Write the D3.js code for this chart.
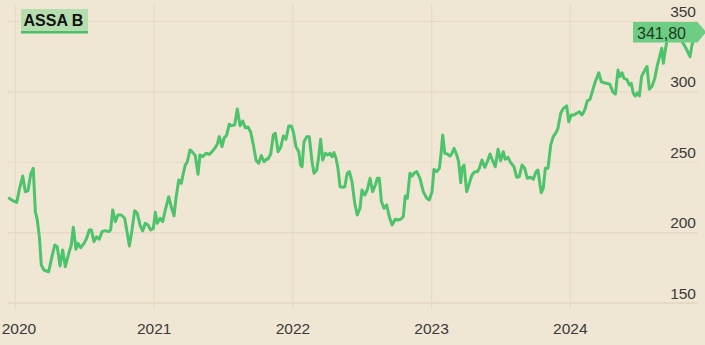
<!DOCTYPE html>
<html>
<head>
<meta charset="utf-8">
<script src="https://cdn.jsdelivr.net/npm/d3@7"></script>
<style>
  html, body { margin: 0; padding: 0; background: #efe6d4; }
  svg { display: block; font-family: "Liberation Sans", Arial, Helvetica, sans-serif; }
</style>
</head>
<body>
<div id="chart"></div>
<script>
const ticker = "ASSA B"
const lastLabel = "341,80"
const xTicks = [2020, 2021, 2022, 2023, 2024]
const yTicks = [150, 200, 250, 300, 350]

// weekly-ish closes, time as decimal year
const times = [
  2019.955, 2019.984, 2020.009, 2020.027, 2020.052, 2020.071, 2020.090, 2020.110, 2020.128, 2020.143,
  2020.157, 2020.172, 2020.186, 2020.205, 2020.239, 2020.263, 2020.283, 2020.301, 2020.321, 2020.340,
  2020.359, 2020.384, 2020.402, 2020.417, 2020.436, 2020.451, 2020.470, 2020.494, 2020.513, 2020.532,
  2020.547, 2020.566, 2020.585, 2020.604, 2020.624, 2020.647, 2020.672, 2020.686, 2020.701, 2020.720,
  2020.739, 2020.763, 2020.787, 2020.806, 2020.821, 2020.840, 2020.859, 2020.878, 2020.898, 2020.917,
  2020.936, 2020.955, 2020.975, 2020.994, 2021.008, 2021.022, 2021.042, 2021.061, 2021.080, 2021.105,
  2021.123, 2021.143, 2021.157, 2021.177, 2021.195, 2021.210, 2021.224, 2021.239, 2021.258, 2021.278,
  2021.296, 2021.316, 2021.330, 2021.350, 2021.374, 2021.397, 2021.417, 2021.436, 2021.455, 2021.469,
  2021.489, 2021.503, 2021.523, 2021.541, 2021.556, 2021.580, 2021.599, 2021.619, 2021.638, 2021.657,
  2021.676, 2021.696, 2021.715, 2021.734, 2021.753, 2021.772, 2021.792, 2021.811, 2021.820, 2021.840,
  2021.859, 2021.873, 2021.893, 2021.912, 2021.931, 2021.950, 2021.970, 2021.989, 2022.003, 2022.022,
  2022.042, 2022.056, 2022.066, 2022.080, 2022.100, 2022.118, 2022.138, 2022.152, 2022.172, 2022.186,
  2022.200, 2022.215, 2022.234, 2022.253, 2022.268, 2022.282, 2022.296, 2022.311, 2022.325, 2022.340,
  2022.359, 2022.374, 2022.392, 2022.407, 2022.426, 2022.446, 2022.464, 2022.484, 2022.498, 2022.518,
  2022.536, 2022.556, 2022.575, 2022.594, 2022.609, 2022.623, 2022.638, 2022.657, 2022.676, 2022.695,
  2022.715, 2022.738, 2022.758, 2022.777, 2022.796, 2022.810, 2022.825, 2022.844, 2022.859, 2022.873,
  2022.893, 2022.916, 2022.940, 2022.965, 2022.983, 2023.003, 2023.017, 2023.037, 2023.056, 2023.066,
  2023.080, 2023.095, 2023.113, 2023.133, 2023.147, 2023.162, 2023.181, 2023.195, 2023.210, 2023.219,
  2023.234, 2023.253, 2023.272, 2023.291, 2023.311, 2023.330, 2023.344, 2023.363, 2023.383, 2023.402,
  2023.421, 2023.436, 2023.459, 2023.479, 2023.498, 2023.517, 2023.531, 2023.551, 2023.570, 2023.594,
  2023.614, 2023.632, 2023.652, 2023.671, 2023.690, 2023.715, 2023.733, 2023.753, 2023.767, 2023.782,
  2023.791, 2023.805, 2023.820, 2023.839, 2023.859, 2023.877, 2023.897, 2023.911, 2023.931, 2023.950,
  2023.974, 2023.989, 2024.007, 2024.027, 2024.046, 2024.065, 2024.084, 2024.104, 2024.123, 2024.142,
  2024.162, 2024.180, 2024.205, 2024.224, 2024.243, 2024.267, 2024.286, 2024.306, 2024.325, 2024.344,
  2024.358, 2024.373, 2024.387, 2024.407, 2024.426, 2024.440, 2024.454, 2024.469, 2024.483, 2024.498,
  2024.514, 2024.535, 2024.553, 2024.570, 2024.590, 2024.609, 2024.628, 2024.644, 2024.659, 2024.671,
  2024.683, 2024.696, 2024.719, 2024.748, 2024.777, 2024.805, 2024.834, 2024.863, 2024.875, 2024.899,
  2024.923, 2024.948
]
const prices = [
  224.4, 222.5, 221.5, 230.3, 240.2, 229.0, 229.8, 241.7, 245.7, 214.9,
  209.0, 197.0, 177.0, 173.4, 172.2, 182.9, 191.2, 190.0, 176.3, 187.7,
  175.8, 185.3, 191.2, 203.8, 188.2, 192.4, 189.3, 192.4, 196.0, 201.9,
  201.9, 193.6, 197.1, 195.3, 200.7, 201.4, 200.7, 201.9, 216.1, 207.8,
  212.5, 212.5, 210.2, 199.5, 190.5, 201.9, 215.6, 213.7, 205.4, 201.2,
  206.6, 205.4, 201.9, 203.1, 214.4, 206.6, 210.2, 207.8, 216.1, 225.5,
  218.4, 212.0, 224.4, 237.4, 235.0, 242.2, 248.0, 250.4, 258.7, 257.0,
  254.7, 241.4, 255.2, 254.0, 256.4, 255.6, 257.5, 259.9, 262.8, 268.2,
  261.1, 267.0, 269.4, 277.0, 276.0, 276.5, 287.8, 276.0, 279.3, 274.5,
  275.0, 271.3, 262.3, 251.6, 249.3, 254.7, 250.4, 252.3, 252.1, 255.9,
  269.4, 270.6, 257.5, 260.6, 268.6, 266.3, 275.8, 275.8, 271.7, 261.1,
  257.5, 248.0, 246.8, 264.6, 268.2, 268.2, 250.4, 242.2, 244.5, 253.9,
  266.3, 251.6, 256.4, 255.2, 256.4, 253.9, 256.8, 252.8, 245.7, 232.6,
  232.2, 232.6, 242.2, 243.3, 236.2, 220.8, 212.5, 217.3, 230.3, 226.7,
  230.3, 238.6, 229.1, 233.8, 238.6, 238.6, 222.0, 217.3, 219.6, 211.3,
  205.4, 209.5, 209.0, 209.5, 211.3, 226.0, 224.4, 242.2, 240.2, 242.2,
  243.3, 238.6, 229.1, 224.4, 223.2, 229.1, 244.9, 243.3, 245.7, 253.9,
  269.4, 256.4, 255.9, 254.4, 256.4, 259.9, 255.2, 250.4, 235.5, 245.7,
  248.0, 229.1, 235.0, 240.9, 243.3, 243.3, 245.7, 251.6, 246.4, 250.4,
  255.9, 252.1, 246.8, 259.2, 251.1, 257.5, 252.1, 253.5, 249.7, 246.8,
  239.3, 239.7, 248.0, 245.7, 238.6, 239.3, 237.9, 243.3, 244.5, 233.8,
  228.4, 231.5, 245.7, 245.7, 262.3, 268.2, 271.0, 274.1, 284.8, 288.3,
  290.0, 278.8, 283.6, 283.6, 284.8, 285.9, 283.6, 287.1, 293.7, 294.7,
  301.3, 307.2, 313.6, 307.2, 306.5, 306.0, 305.3, 300.1, 298.5, 315.5,
  310.8, 313.6, 309.6, 308.9, 304.9, 306.0, 299.0, 297.1, 299.4, 297.1,
  311.0, 315.0, 318.0, 301.8, 304.2, 309.6, 319.1, 325.0, 331.0, 320.3,
  328.6, 335.7, 340.0, 343.0, 339.0, 336.0, 331.0, 325.0, 332.2, 341.6,
  345.2, 341.8
]

const data = times.map((t, i) => ({t: t, v: prices[i]}))

const W = 705, H = 345

const svg = d3.select("#chart").append("svg")
    .attr("width", W)
    .attr("height", H)

svg.append("rect")
    .attr("width", W)
    .attr("height", H)
    .attr("fill", "#efe6d4")

const x = d3.scaleLinear()
    .domain([2020, 2024])
    .range([15.5, 570.3])

const y = d3.scaleLinear()
    .domain([150, 350])
    .range([303, 21.5])

const gridColor = "#e6dac4"

// vertical grid
svg.append("g")
    .selectAll("line")
    .data(xTicks)
    .join("line")
        .attr("x1", d => x(d))
        .attr("x2", d => x(d))
        .attr("y1", 5)
        .attr("y2", 309)
        .attr("stroke", gridColor)
        .attr("stroke-width", 1.2)

// horizontal grid
svg.append("g")
    .selectAll("line")
    .data(yTicks)
    .join("line")
        .attr("x1", 8)
        .attr("x2", 698)
        .attr("y1", d => y(d))
        .attr("y2", d => y(d))
        .attr("stroke", gridColor)
        .attr("stroke-width", d => d === 150 ? 2.2 : 1.2)

// y labels (right side, above gridline)
svg.append("g")
    .selectAll("text")
    .data(yTicks)
    .join("text")
        .attr("x", 696)
        .attr("y", d => y(d) - 4.5)
        .attr("text-anchor", "end")
        .attr("font-size", 15.5)
        .attr("fill", "#3a3a3a")
        .text(d => d)

// x labels
svg.append("g")
    .selectAll("text")
    .data(xTicks)
    .join("text")
        .attr("x", d => Math.max(x(d), 19))
        .attr("y", 334)
        .attr("text-anchor", "middle")
        .attr("font-size", 15.5)
        .attr("fill", "#3a3a3a")
        .text(d => d)

// price line
const line = d3.line()
    .x(d => x(d.t))
    .y(d => y(d.v))

svg.append("path")
    .datum(data)
    .attr("fill", "none")
    .attr("stroke", "#4dc46b")
    .attr("stroke-width", 3)
    .attr("stroke-linejoin", "round")
    .attr("stroke-linecap", "round")
    .attr("d", line)

// ticker badge
const badge = svg.append("g")
badge.append("rect")
    .attr("x", 21).attr("y", 9)
    .attr("width", 67).attr("height", 24)
    .attr("fill", "#b6ddae")
badge.append("rect")
    .attr("x", 21).attr("y", 31)
    .attr("width", 67).attr("height", 2.5)
    .attr("fill", "#4dbf67")
badge.append("text")
    .attr("x", 23.5).attr("y", 25.5)
    .attr("font-size", 16)
    .attr("font-weight", "bold")
    .attr("fill", "#111")
    .text(ticker)

// last value tag
const last = data[data.length - 1]
const ly = y(last.v)
const tag = svg.append("g")
tag.append("path")
    .attr("d", `M633,${ly - 11}H697.5L706,${ly - 1}L697.5,${ly + 9.5}H633Z`)
    .attr("fill", "#6ccd83")
tag.append("text")
    .attr("x", 637).attr("y", ly + 6)
    .attr("font-size", 16)
    .attr("fill", "#1c3a25")
    .text(lastLabel)
</script>
</body>
</html>
